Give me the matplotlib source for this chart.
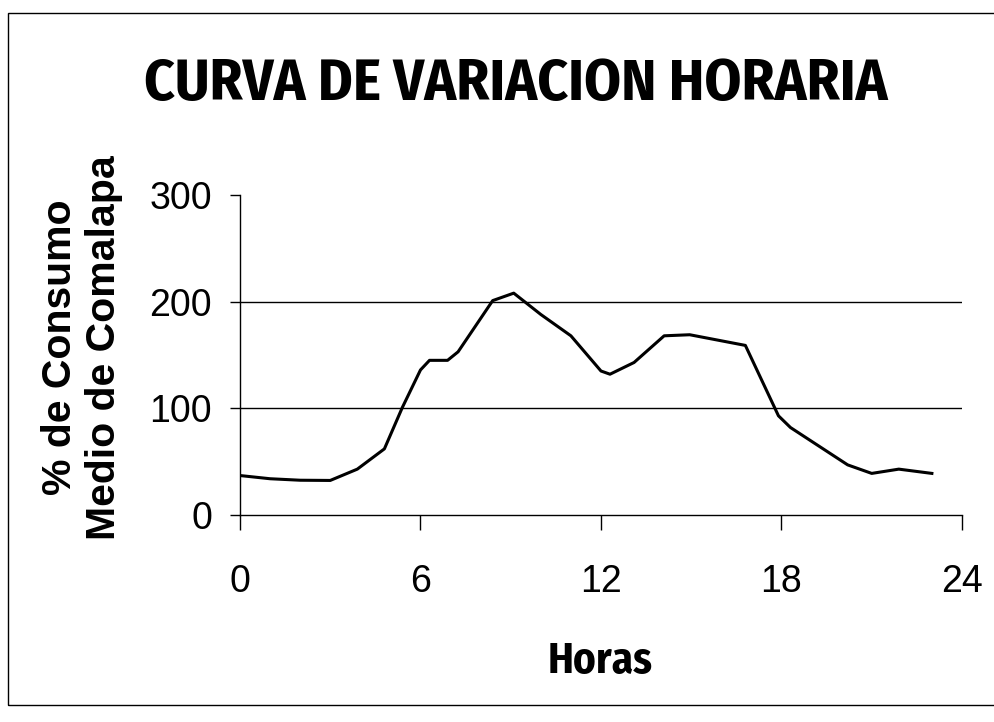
import matplotlib.pyplot as plt
from matplotlib.patches import Rectangle

# values (hour, % of mean consumption)
horas = [0, 1, 2, 3, 3.9, 4.8, 5.4, 6.0, 6.3, 6.9, 7.25, 8.4, 9.1, 10.0, 11.0,
         12.0, 12.3, 13.1, 14.1, 14.95, 16.8, 17.9, 18.3, 20.2, 21.0, 21.9, 23.0]
consumo = [37, 34, 32.6, 32.4, 43, 62, 101, 136, 145, 145, 153, 201, 208, 188, 168,
           135, 132, 143, 168, 169, 159, 93, 82, 47, 39, 43, 39]
xticks = [0, 6, 12, 18, 24]
yticks = [0, 100, 200, 300]

arial = ['Liberation Sans', 'DejaVu Sans']
narrow = ['Fira Sans Condensed', 'Liberation Sans']

fig = plt.figure(figsize=(9.95, 7.22), dpi=100)
ax = fig.add_axes([0.2412, 0.2867, 0.7256, 0.4432])

ax.plot(horas, consumo, color='black', lw=2.2)
for v in [100, 200]:
    ax.axhline(v, color='black', lw=1)

ax.set_xlim(0, 24)
ax.set_ylim(0, 300)
ax.set_xticks(xticks)
ax.set_yticks(yticks)
for s in ['top', 'right']:
    ax.spines[s].set_visible(False)
ax.spines['left'].set_linewidth(1)
ax.spines['bottom'].set_linewidth(1)
ax.tick_params(axis='x', direction='out', length=11, width=1, pad=24, labelsize=27)
ax.tick_params(axis='y', direction='out', length=7, width=1, pad=13, labelsize=27)
for lab in ax.get_xticklabels() + ax.get_yticklabels():
    lab.set_family(arial)

fig.text(0.0824, 0.519, "% de Consumo\nMedio de Comalapa", rotation=90,
         ha='center', va='center', fontsize=29.5, fontweight='bold', family=arial)
fig.text(0.603, 0.068, "Horas", ha='center', va='baseline',
         fontsize=31, fontweight='bold', family=narrow)
fig.text(0.518, 0.861, "CURVA DE VARIACION HORARIA", ha='center', va='baseline',
         fontsize=42.5, fontweight='bold', family=narrow)

fig.patches.append(Rectangle((0.008, 0.0235), 1.2, 0.9585, transform=fig.transFigure,
                             fill=False, edgecolor='black', lw=1))

fig.savefig("out.png", dpi=100)
